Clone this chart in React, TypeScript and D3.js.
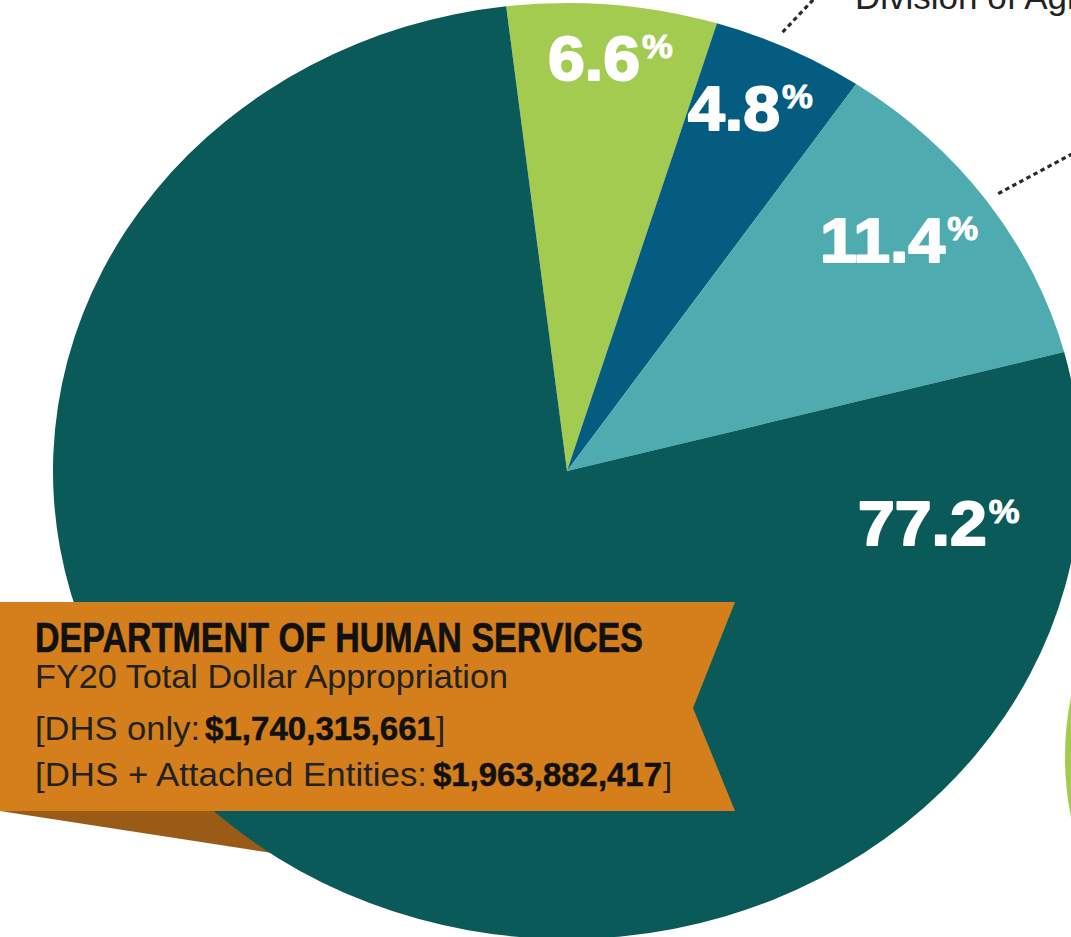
import React from "react";
import * as d3 from "d3";

// ---- data ----
const sliceValues = [6.6, 4.8, 11.4, 77.2];
const sliceLabels = ["6.6", "4.8", "11.4", "77.2"];
const sliceColors = ["#a2cb4f", "#045c80", "#4eacb0", "#0a5a59"];
const bannerTitle = "DEPARTMENT OF HUMAN SERVICES";
const bannerSubtitle = "FY20 Total Dollar Appropriation";
const dhsOnlyLabel = "[DHS only: ";
const dhsOnlyValue = "$1,740,315,661";
const dhsAllLabel = "[DHS + Attached Entities: ";
const dhsAllValue = "$1,963,882,417";
const calloutText = "Division of Aging, Adult & Behavioral Health Services";

// ---- layout ----
const W = 1071;
const H = 937;
const CX = 567;
const CY = 471;
const RX = 514;
const RY = 468;
const K = RY / RX;
const START_DEG = -6.8;
// label anchors: [left x, baseline y]
const labelAnchors: [number, number][] = [
  [548, 80],
  [688, 130],
  [820, 262],
  [858, 545],
];

const rad = (d: number) => (d * Math.PI) / 180;

export default function App() {
  const pie = d3
    .pie<number>()
    .sort(null)
    .value((d) => d)
    .startAngle(rad(START_DEG))
    .endAngle(rad(START_DEG + 360));
  const arcs = pie(sliceValues);
  const arc = d3.arc<d3.PieArcDatum<number>>().innerRadius(0).outerRadius(RX);

  const onEllipse = (angle: number, r: number): [number, number] => [
    CX + r * Math.sin(angle),
    CY - r * Math.cos(angle) * K,
  ];
  const mid = (a: d3.PieArcDatum<number>) => (a.startAngle + a.endAngle) / 2;

  // leader lines from the blue and teal slices
  const l1 = onEllipse(mid(arcs[1]) - rad(1.5), 528);
  const l2 = onEllipse(mid(arcs[2]), 528);
  const leader1 = d3.line()([l1, [l1[0] + 34, l1[1] - 36]]);
  const leader2 = d3.line()([l2, [l2[0] + 80, l2[1] - 43]]);

  const bannerPath = d3.line()([
    [0, 602],
    [735, 602],
    [693, 708],
    [735, 811],
    [0, 811],
  ]) + "Z";
  const foldPath = d3.line()([
    [0, 811],
    [330, 811],
    [330, 862],
  ]) + "Z";

  const regFont = "'Liberation Sans', Arial, sans-serif";
  const boldFont = "'Liberation Sans Narrow', 'Liberation Sans', Arial, sans-serif";

  return (
    <svg
      width={W}
      height={H}
      viewBox={`0 0 ${W} ${H}`}
      style={{ position: "absolute", left: 0, top: 0, display: "block", background: "#fff" }}
    >
      <rect x={0} y={0} width={W} height={H} fill="#fff" />

      {/* partial neighbouring circle at right */}
      <circle cx={1370} cy={757} r={305} fill="#a2cb4f" />

      {/* callout text at top */}
      <text x={855} y={9} fontFamily={regFont} fontSize={35} fill="#222" fontWeight={300}>
        {calloutText}
      </text>

      {/* leader lines */}
      <path d={leader1 || ""} stroke="#2a2a2a" strokeWidth={3.2} strokeDasharray="4.5 3.5" fill="none" />
      <path d={leader2 || ""} stroke="#2a2a2a" strokeWidth={3.2} strokeDasharray="4.5 3.5" fill="none" />

      {/* banner fold (behind pie) */}
      <path d={foldPath} fill="#9a5b16" />

      {/* pie */}
      <g transform={`translate(${CX},${CY}) scale(1,${K})`}>
        {arcs.map((a, i) => (
          <path key={i} d={arc(a) || ""} fill={sliceColors[i]} />
        ))}
      </g>

      {/* percentage labels */}
      {arcs.map((a, i) => (
        <text
          key={"l" + i}
          transform={`translate(${labelAnchors[i][0]},${labelAnchors[i][1]}) scale(1.05,1)`}
          fontFamily={regFont}
          fontWeight={700}
          fontSize={63}
          fill="#fff"
          stroke="#fff"
          strokeWidth={2}
          strokeLinejoin="round"
        >
          {sliceLabels[i]}
          <tspan fontSize={33} dx={2} dy={-22} strokeWidth={1}>
            %
          </tspan>
        </text>
      ))}

      {/* banner */}
      <path d={bannerPath} fill="#d47f1c" />
      <text
        x={35}
        y={652}
        fontFamily={boldFont}
        fontWeight={700}
        fontSize={42}
        fill="#111"
        textLength={608}
        lengthAdjust="spacingAndGlyphs"
        stroke="#111"
        strokeWidth={0.6}
      >
        {bannerTitle}
      </text>
      <text x={35} y={688} fontFamily={regFont} fontSize={33} fill="#222" textLength={473} lengthAdjust="spacingAndGlyphs">
        {bannerSubtitle}
      </text>
      <text x={35} y={740} fontFamily={regFont} fontSize={33} fill="#222" textLength={165} lengthAdjust="spacingAndGlyphs">
        {dhsOnlyLabel}
      </text>
      <text
        x={205}
        y={740}
        fontFamily={boldFont}
        fontWeight={700}
        fontSize={33}
        fill="#111"
        stroke="#111"
        strokeWidth={0.5}
        textLength={230}
        lengthAdjust="spacingAndGlyphs"
      >
        {dhsOnlyValue}
      </text>
      <text x={436} y={740} fontFamily={regFont} fontSize={33} fill="#222">
        ]
      </text>
      <text x={35} y={786} fontFamily={regFont} fontSize={33} fill="#222" textLength={392} lengthAdjust="spacingAndGlyphs">
        {dhsAllLabel}
      </text>
      <text
        x={433}
        y={786}
        fontFamily={boldFont}
        fontWeight={700}
        fontSize={33}
        fill="#111"
        stroke="#111"
        strokeWidth={0.5}
        textLength={229}
        lengthAdjust="spacingAndGlyphs"
      >
        {dhsAllValue}
      </text>
      <text x={663} y={786} fontFamily={regFont} fontSize={33} fill="#222">
        ]
      </text>
    </svg>
  );
}
